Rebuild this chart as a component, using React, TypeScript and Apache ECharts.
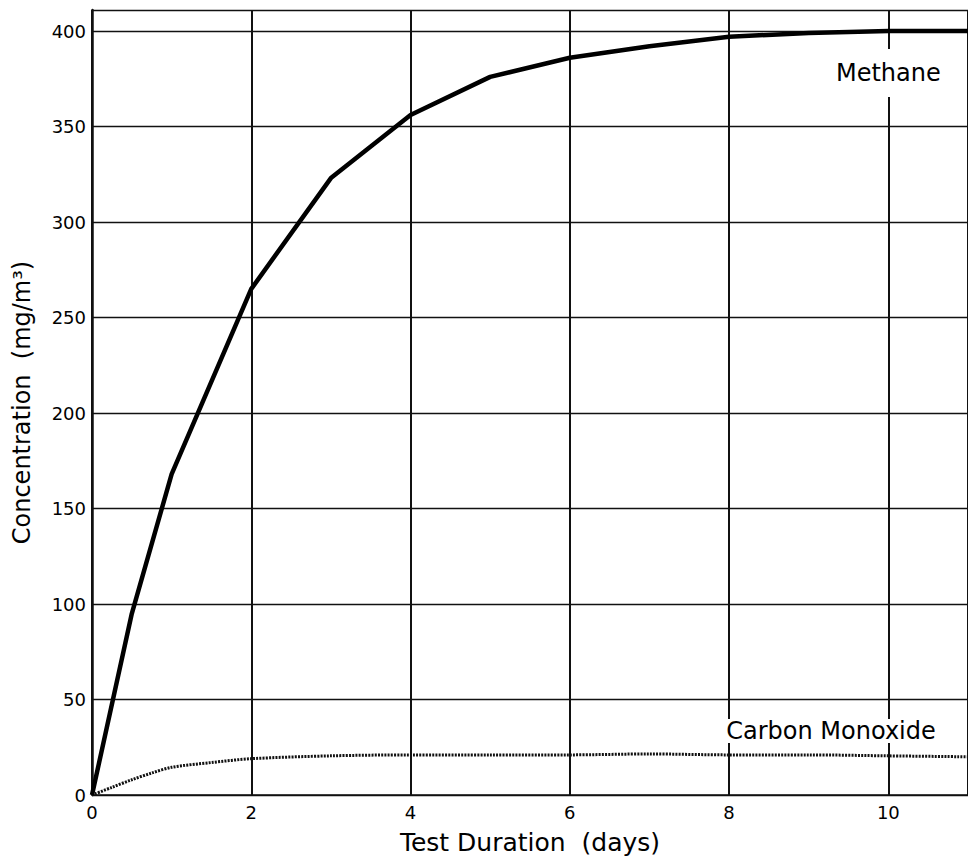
import React, { useEffect, useRef } from "react";
import * as echarts from "echarts";

const methaneDays = [0, 0.5, 1, 2, 3, 4, 5, 6, 7, 8, 9, 10, 11];
const methaneValues = [0, 95, 168, 265, 323, 356, 376, 386, 392, 397, 399, 400, 400];

const coDays = [0, 0.25, 0.5, 0.75, 1, 1.5, 2, 3, 4, 5, 6, 7, 8, 9, 10, 11];
const coValues = [0, 4, 8, 11.5, 14.5, 17, 19, 20.5, 21, 21, 21, 21.5, 21, 21, 20.5, 20];

const xTitle = "Test Duration  (days)";
const yTitle = "Concentration  (mg/m³)";
const methaneLabel = "Methane";
const coLabel = "Carbon Monoxide";

const FONT = "DejaVu Sans";

export default function App() {
  const ref = useRef<HTMLDivElement>(null);
  useEffect(() => {
    if (!ref.current) return;
    const chart = echarts.init(ref.current, null, { renderer: "svg" });
    chart.setOption({
      animation: false,
      backgroundColor: "#fff",
      grid: { left: 92, right: -1, top: 10, bottom: 66 },
      xAxis: {
        type: "value",
        min: 0,
        max: 11,
        interval: 2,
        name: xTitle,
        nameLocation: "middle",
        nameGap: 35,
        nameTextStyle: { fontFamily: FONT, fontSize: 25, color: "#000" },
        axisLine: { show: true, lineStyle: { color: "#111", width: 1.5 } },
        axisTick: { show: false },
        axisLabel: {
          fontFamily: FONT,
          fontSize: 18,
          color: "#000",
          margin: 8,
          showMaxLabel: false,
        },
        splitLine: { show: true, lineStyle: { color: "#111", width: 2 } },
      },
      yAxis: {
        type: "value",
        min: 0,
        max: 411,
        interval: 50,
        name: yTitle,
        nameLocation: "middle",
        nameGap: 58,
        nameTextStyle: { fontFamily: FONT, fontSize: 24, color: "#000" },
        axisLine: { show: true, lineStyle: { color: "#111", width: 2.5 } },
        axisTick: { show: false },
        axisLabel: {
          fontFamily: FONT,
          fontSize: 18,
          color: "#000",
          margin: 6,
          showMaxLabel: false,
        },
        splitLine: { show: true, lineStyle: { color: "#111", width: 1.3 } },
      },
      series: [
        {
          type: "line",
          name: "Methane",
          data: methaneDays.map((d, i) => [d, methaneValues[i]]),
          showSymbol: false,
          lineStyle: { color: "#000", width: 4.5 },
          z: 5,
          markPoint: {
            symbol: "circle",
            symbolSize: 1,
            itemStyle: { color: "rgba(0,0,0,0)" },
            data: [{ coord: [10, 378], value: 0 }],
            label: {
              show: true,
              position: "inside",
              formatter: methaneLabel,
              fontFamily: FONT,
              fontSize: 24,
              color: "#000",
              backgroundColor: "#fff",
              padding: [12, 6],
            },
          },
        },
        {
          type: "line",
          name: "Carbon Monoxide",
          data: coDays.map((d, i) => [d, coValues[i]]),
          showSymbol: false,
          smooth: 0.3,
          lineStyle: { color: "#111", width: 3, type: [2, 1.2] },
          z: 4,
          markPoint: {
            symbol: "circle",
            symbolSize: 1,
            itemStyle: { color: "rgba(0,0,0,0)" },
            data: [{ coord: [9.28, 33.5], value: 0 }],
            label: {
              show: true,
              position: "inside",
              formatter: coLabel,
              fontFamily: FONT,
              fontSize: 24,
              color: "#000",
              backgroundColor: "#fff",
              padding: [0, 4],
            },
          },
        },
      ],
    });
    return () => chart.dispose();
  }, []);
  return <div ref={ref} style={{ width: 968, height: 861, position: "absolute", left: 0, top: 0 }} />;
}
